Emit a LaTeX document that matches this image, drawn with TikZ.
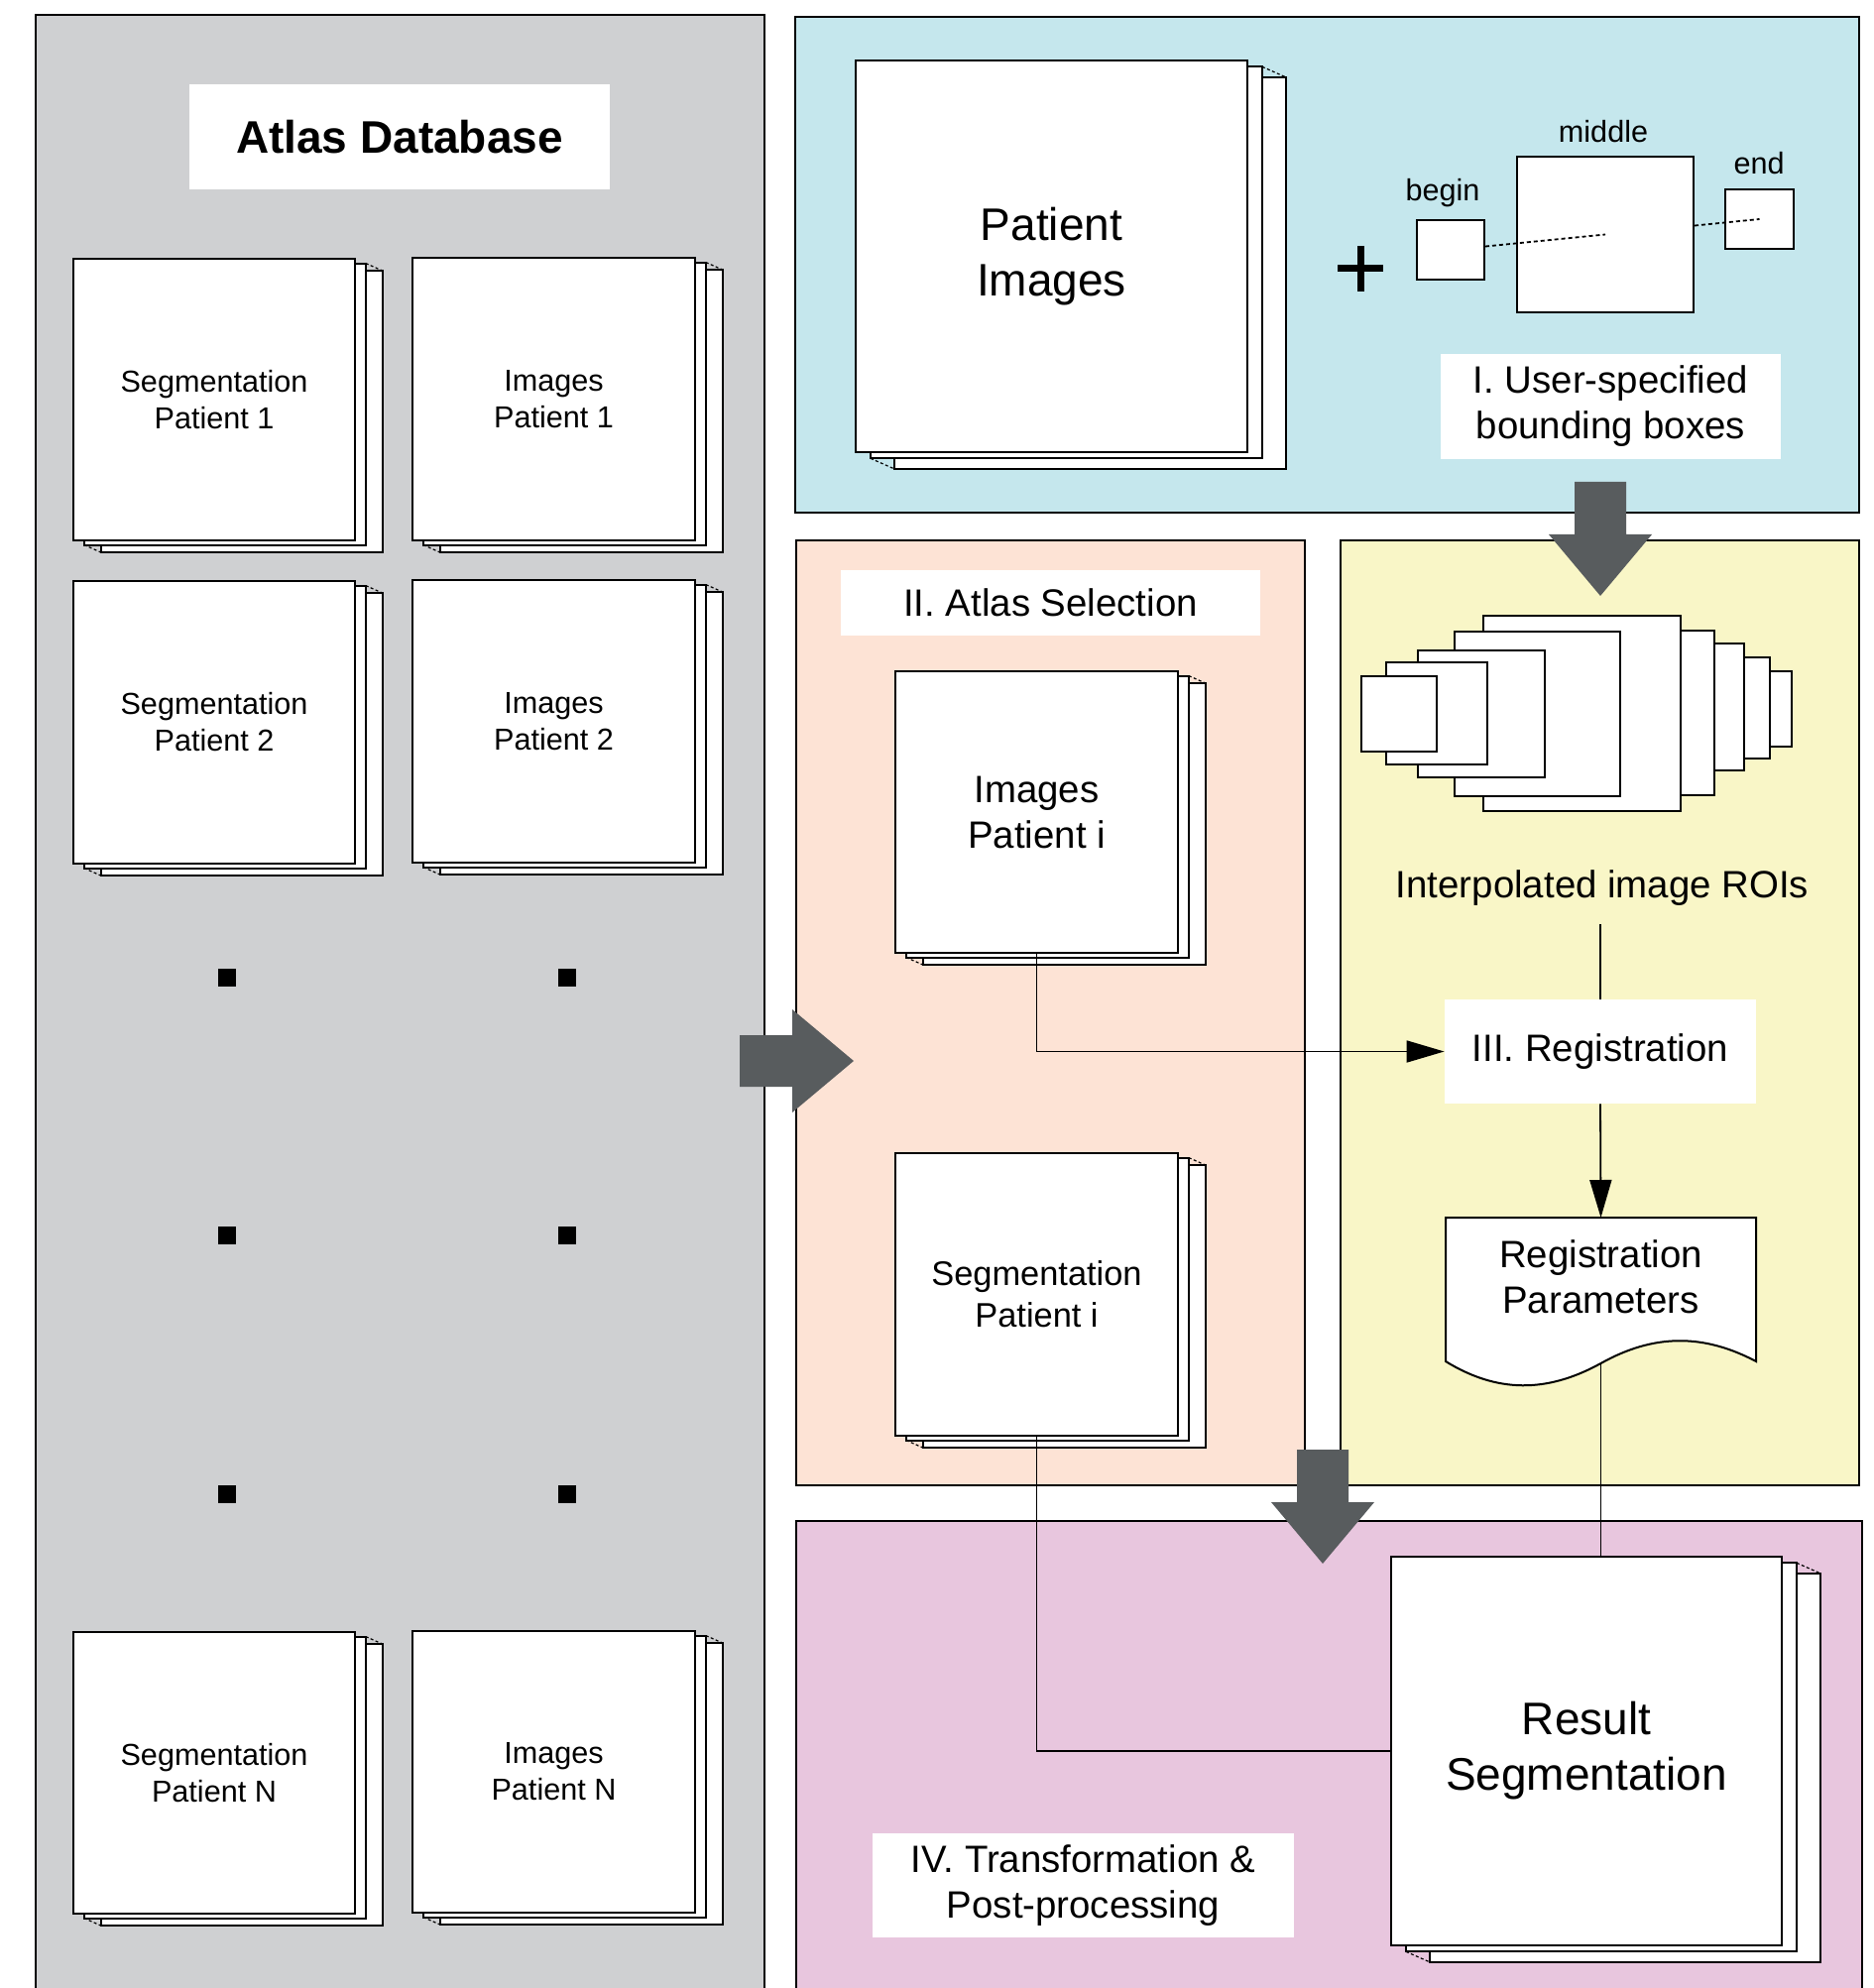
\documentclass[tikz,border=0pt]{standalone}
\usepackage{fontspec}
\setmainfont{Liberation Sans}
\usetikzlibrary{arrows.meta,calc}
\definecolor{dbgray}{RGB}{207,208,210}
\definecolor{pblue}{RGB}{197,231,237}
\definecolor{ppeach}{RGB}{253,227,213}
\definecolor{pyellow}{RGB}{249,246,199}
\definecolor{ppink}{RGB}{232,198,222}
\definecolor{arrowgray}{RGB}{88,92,94}
\newcommand{\fsmall}{\fontsize{15.3}{18.5}\selectfont}
\newcommand{\flab}{\fontsize{19.2}{23}\selectfont}
\newcommand{\fbig}{\fontsize{23}{28}\selectfont}
\newcommand{\fsegi}{\fontsize{17.2}{21}\selectfont}
% #1 name, #2 x, #3 y (top-left of front sheet), #4 w, #5 h, #6 font, #7 text
\newcommand{\pstack}[7]{%
  \pgfmathsetmacro{\stkax}{#2+0.038*#4}%
  \pgfmathsetmacro{\stkay}{#3+0.016*#5}%
  \pgfmathsetmacro{\stkbx}{#2+0.099*#4}%
  \pgfmathsetmacro{\stkby}{#3+0.043*#5}%
  \draw[sheet] (\stkbx,\stkby) rectangle ++(#4,#5);
  \draw[sheet] (\stkax,\stkay) rectangle ++(#4,#5);
  \draw[sheetdots] ({\stkax+#4},\stkay) -- ({\stkbx+#4},\stkby);
  \draw[sheetdots] (\stkax,{\stkay+#5}) -- (\stkbx,{\stkby+#5});
  \node[sheetfront,font=#6,minimum width={#4*0.5pt},minimum height={#5*0.5pt}] (#1) at ({#2+#4/2},{#3+#5/2}) {#7};
}
\begin{document}
\begin{tikzpicture}[x=0.5pt,y=-0.5pt,
  panel/.style={draw=black,line width=0.9pt},
  sheet/.style={draw=black,fill=white,line width=1pt},
  sheetdots/.style={line width=0.6pt,dash pattern=on 1.5pt off 1.2pt},
  sheetfront/.style={draw=black,fill=white,line width=1pt,inner sep=0pt,align=center},
  labelbox/.style={fill=white,inner sep=0pt,align=center},
  roibox/.style={draw=black,fill=white,line width=1pt},
  dotsq/.style={fill=black,inner sep=0pt,minimum size=9pt},
  bbdots/.style={line width=0.9pt,dash pattern=on 2pt off 1.5pt},
  conn/.style={draw=black,line width=0.9pt},
  tip/.style={-{Triangle[length=19pt,width=11pt]}},
  blockarrow/.pic={\fill[arrowgray] (0,-26) -- (53,-26) -- (53,-52) -- (115,0) -- (53,52) -- (53,26) -- (0,26) -- cycle;}
]
\useasboundingbox (0,0) rectangle (1889,2005);
\clip (0,0) rectangle (1889,2005);
\fill[white] (0,0) rectangle (1889,2005);

% panels
\draw[panel,fill=dbgray] (36,15) rectangle (771,2030);
\draw[panel,fill=pblue] (802,17) rectangle (1875,517);
\draw[panel,fill=ppeach] (803,545) rectangle (1316,1498);
\draw[panel,fill=pyellow] (1352,545) rectangle (1875,1498);
\draw[panel,fill=ppink] (803,1534) rectangle (1878,2030);

% Atlas database
\node[labelbox,minimum width=212pt,minimum height=53pt,font=\bfseries\fbig] (atlas) at (403,138) {Atlas Database};
\pstack{segA}{74}{261}{284}{284}{\fsmall}{Segmentation\\Patient 1}
\pstack{imgA}{416}{260}{285}{285}{\fsmall}{Images\\Patient 1}
\pstack{segB}{74}{586}{284}{285}{\fsmall}{Segmentation\\Patient 2}
\pstack{imgB}{416}{585}{285}{285}{\fsmall}{Images\\Patient 2}
\pstack{segN}{74}{1646}{284}{284}{\fsmall}{Segmentation\\Patient N}
\pstack{imgN}{416}{1645}{285}{284}{\fsmall}{Images\\Patient N}
\node[dotsq] (d1) at (229,986) {};
\node[dotsq] (d2) at (572,986) {};
\node[dotsq] (d3) at (229,1246) {};
\node[dotsq] (d4) at (572,1246) {};
\node[dotsq] (d5) at (229,1507) {};
\node[dotsq] (d6) at (572,1507) {};

% block arrows
\pic at (746,1070) {blockarrow};
\pic[rotate=-90] at (1614,486) {blockarrow};
\pic[rotate=-90] at (1334,1462) {blockarrow};

% panel I
\pstack{pimg}{863}{61}{395}{395}{\fbig}{Patient\\Images}
\draw[line width=3.5pt] (1349,271) -- (1395,271) (1372,248) -- (1372,294);
\node[roibox,minimum width=34pt,minimum height=30pt,inner sep=0pt] (bgn) at (1463,252) {};
\node[roibox,minimum width=89pt,minimum height=78.5pt,inner sep=0pt] (mid) at (1619,236.5) {};
\node[roibox,minimum width=34.5pt,minimum height=30pt,inner sep=0pt] (endb) at (1774.5,221) {};
\draw[bbdots] (bgn) -- (mid.center);
\draw[bbdots] (mid) -- (endb.center);
\node[font=\fsmall,anchor=base,inner sep=0pt] (lbgn) at (1455,203) {begin};
\node[font=\fsmall,anchor=base,inner sep=0pt] (lmid) at (1617,144) {middle};
\node[font=\fsmall,anchor=base,inner sep=0pt] (lend) at (1774,176) {end};
\node[labelbox,font=\flab,minimum width=171.5pt,minimum height=53pt] (lab1) at (1624.5,410) {I. User-specified\\bounding boxes};

% panel II
\node[labelbox,font=\flab,minimum width=211.5pt,minimum height=33pt] (lab2) at (1059.5,608) {II. Atlas Selection};
\pstack{ipi}{903}{677}{285}{284}{\flab}{Images\\Patient i}
\pstack{spi}{903}{1163}{285}{285}{\fsegi}{Segmentation\\Patient i}

% panel III
\draw[roibox] (1740,677) rectangle (1807,753);
\draw[roibox] (1700,663) rectangle (1785,765);
\draw[roibox] (1680,649) rectangle (1759,777);
\draw[roibox] (1660,636) rectangle (1729,802);
\draw[roibox] (1496,621) rectangle (1695,818);
\draw[roibox] (1467,637) rectangle (1634,803);
\draw[roibox] (1430,656) rectangle (1558,784);
\draw[roibox] (1398,668) rectangle (1500,771);
\draw[roibox] (1373,682) rectangle (1449,758);
\node[font=\flab,inner xsep=0pt,inner ysep=9pt] (roi) at (1616,896) {Interpolated image ROIs};
\node[labelbox,font=\flab,minimum width=157pt,minimum height=52.5pt] (reg) at (1614,1060.5) {III. Registration};
\draw[line width=1pt,fill=white] (1458,1228) -- (1771,1228) -- (1771,1373)
  .. controls (1718,1345) and (1668,1345) .. (1614.5,1375)
  .. controls (1560,1405) and (1510,1405) .. (1458,1373) -- cycle;
\node[font=\flab,align=center,anchor=north,inner xsep=0pt,inner ysep=11pt] (params) at (1614.5,1228) {Registration\\Parameters};
\coordinate (pbot) at (1614.5,1375);

% panel IV
\pstack{res}{1403}{1570}{394}{392}{\fbig}{Result\\Segmentation}
\node[labelbox,font=\flab,minimum width=212.5pt,minimum height=52.5pt] (lab4) at (1092.5,1901.5) {IV. Transformation \&\\Post-processing};

% connectors
\draw[conn,tip] (ipi.south) |- (reg.west);
\draw[conn] (roi.south -| reg.north) -- (reg.north);
\draw[conn,tip] (reg.south) -- (params.north);
\draw[conn] (pbot) -- (pbot |- res.north);
\draw[conn] (spi.south) |- (res.west);
\end{tikzpicture}
\end{document}
